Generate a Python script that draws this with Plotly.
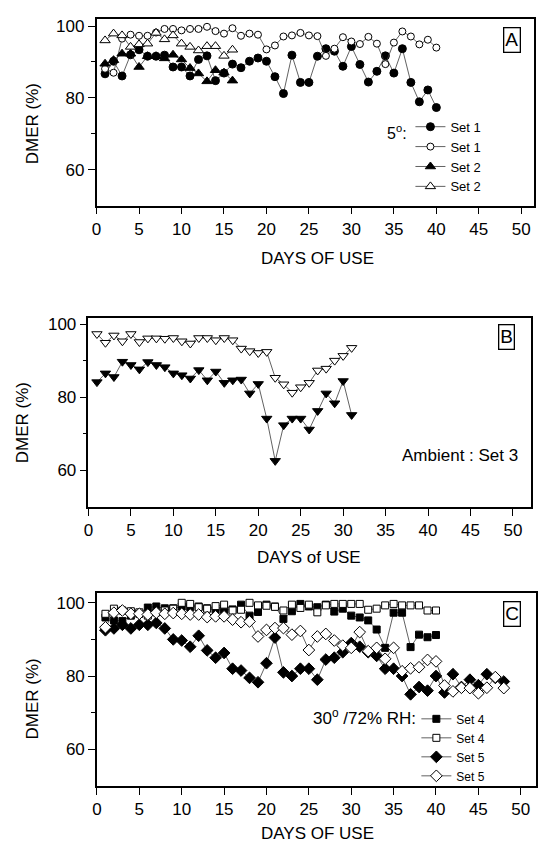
import plotly.graph_objects as go

# ---------------- data ----------------
days_40 = [1, 2, 3, 4, 5, 6, 7, 8, 9, 10, 11, 12, 13, 14, 15, 16, 17, 18, 19, 20,
           21, 22, 23, 24, 25, 26, 27, 28, 29, 30, 31, 32, 33, 34, 35, 36, 37, 38, 39, 40]
days_16 = [1, 2, 3, 4, 5, 6, 7, 8, 9, 10, 11, 12, 13, 14, 15, 16]
days_31 = [1, 2, 3, 4, 5, 6, 7, 8, 9, 10, 11, 12, 13, 14, 15, 16, 17, 18, 19, 20,
           21, 22, 23, 24, 25, 26, 27, 28, 29, 30, 31]
days_48 = [1, 2, 3, 4, 5, 6, 7, 8, 9, 10, 11, 12, 13, 14, 15, 16, 17, 18, 19, 20,
           21, 22, 23, 24, 25, 26, 27, 28, 29, 30, 31, 32, 33, 34, 35, 36, 37, 38, 39, 40,
           41, 42, 43, 44, 45, 46, 47, 48]

# Panel A (5 deg)
a_set1_filled = [86.7, 90.2, 86.1, 92.0, 93.4, 91.6, 91.6, 91.9, 88.6, 88.6, 86.1, 90.7, 91.7, 84.8,
                 86.9, 89.4, 88.4, 90.2, 91.1, 90.2, 85.9, 81.2, 91.9, 84.3, 84.3, 91.6, 93.7, 93.0,
                 88.8, 94.3, 89.3, 84.4, 87.4, 91.7, 86.9, 93.7, 84.3, 78.9, 82.2, 77.3]
a_set1_open = [88.1, 87.0, 96.5, 97.6, 97.3, 97.3, 98.2, 99.2, 99.2, 98.8, 99.2, 99.2, 99.8, 98.6,
               97.9, 99.4, 97.3, 97.9, 97.6, 93.5, 94.6, 97.1, 97.4, 98.1, 97.4, 97.2, 91.7, 93.7,
               96.9, 95.7, 95.0, 97.0, 95.1, 89.4, 95.4, 98.5, 97.1, 94.9, 96.2, 94.0]
a_set2_filled = [89.5, 90.5, 92.3, 92.3, 88.6, 91.6, 91.6, 91.0, 92.0, 90.7, 88.3, 86.8, 84.6, 87.7,
                 87.0, 84.8]
a_set2_open = [96.0, 97.9, 97.4, 94.2, 94.9, 95.1, 98.1, 96.3, 97.4, 95.1, 94.2, 93.2, 94.4, 94.4,
               91.7, 93.4]

# Panel B (ambient)
b_set3_open = [97.4, 95.0, 97.0, 95.4, 97.4, 95.2, 96.2, 96.2, 96.1, 96.3, 95.4, 94.8, 96.3, 96.3,
               95.7, 96.3, 95.7, 93.4, 92.7, 92.2, 92.5, 85.4, 83.6, 81.3, 82.8, 84.0, 87.4, 87.9,
               90.1, 91.4, 93.6]
b_set3_filled = [84.2, 86.6, 85.6, 89.8, 88.9, 87.7, 89.7, 88.9, 88.3, 86.6, 86.1, 85.2, 87.5, 84.7,
                 87.1, 84.0, 84.7, 84.9, 81.1, 83.7, 74.2, 62.6, 72.4, 74.2, 74.2, 71.2, 76.3, 81.1,
                 78.4, 84.5, 75.2]

# Panel C (30 deg / 72% RH)
c_set4_filled = [96.0, 95.2, 95.0, 96.5, 97.0, 98.7, 99.0, 98.5, 98.5, 99.0, 98.8, 99.0, 98.5, 98.0,
                 98.0, 98.2, 99.5, 96.5, 97.5, 99.5, 99.0, 95.6, 97.7, 99.7, 99.0, 98.8, 99.5, 97.6,
                 98.4, 96.5, 96.0, 95.2, 92.7, 87.7, 97.3, 97.3, 87.9, 91.3, 90.6, 91.2]
c_set4_open = [97.0, 98.4, 97.9, 97.7, 97.4, 96.5, 97.4, 97.9, 98.4, 100.0, 99.7, 98.8, 98.4, 99.1,
               99.5, 97.9, 98.1, 100.0, 99.3, 99.2, 98.9, 97.9, 99.5, 98.6, 99.5, 97.4, 99.3, 99.7,
               99.7, 99.7, 99.7, 98.1, 98.4, 99.3, 99.7, 99.3, 99.3, 99.3, 97.9, 97.9]
c_set5_filled = [92.5, 93.0, 94.0, 93.0, 94.0, 94.0, 94.5, 93.0, 90.0, 89.7, 88.0, 91.0, 87.0, 85.0,
                 86.3, 82.0, 81.5, 79.5, 78.3, 83.5, 90.5, 81.0, 80.0, 82.0, 82.0, 79.0, 84.5, 85.0,
                 86.5, 89.0, 88.0, 86.5, 85.5, 82.0, 82.0, 80.0, 75.0, 77.0, 76.0, 80.0, 75.5, 80.5,
                 77.0, 79.0, 77.5, 80.5, 79.5, 78.5]
c_set5_open = [93.3, 97.3, 97.9, 97.0, 97.0, 96.8, 97.3, 97.0, 97.2, 97.0, 96.8, 96.8, 96.1, 96.3,
               96.3, 95.4, 94.7, 94.9, 90.8, 92.6, 93.1, 93.1, 91.3, 92.3, 87.1, 90.8, 91.5, 89.7,
               88.3, 87.7, 92.0, 86.8, 87.7, 84.7, 87.7, 81.3, 82.1, 82.4, 84.4, 84.0, 77.4, 75.8,
               76.8, 76.7, 75.3, 76.8, 79.7, 76.7]

x_ticks = [0, 5, 10, 15, 20, 25, 30, 35, 40, 45, 50]
y_ticks = [60, 80, 100]
y_minor = [70, 90]

# ---------------- figure ----------------
W, H = 538, 844
FONT = "Liberation Sans, Arial, sans-serif"
LINE = dict(color="#3a3a3a", width=0.8)

fig = go.Figure()


def add(x, y, symbol, filled, size, name, xa, ya, legend=None, showlegend=True):
    marker = dict(symbol=symbol, size=size,
                  color="black" if filled else "white",
                  line=dict(color="black", width=1.0))
    fig.add_trace(go.Scatter(x=x, y=y, mode="lines+markers", name=name,
                             marker=marker, line=LINE, xaxis=xa, yaxis=ya,
                             legend=legend, showlegend=showlegend))


# Panel A
add(days_40, a_set1_filled, "circle", True, 8, "Set 1", "x", "y", "legend")
add(days_40, a_set1_open, "circle", False, 7, "Set 1", "x", "y", "legend")
add(days_16, a_set2_filled, "triangle-up", True, 9, "Set 2", "x", "y", "legend")
add(days_16, a_set2_open, "triangle-up", False, 9, "Set 2", "x", "y", "legend")
# Panel B
add(days_31, b_set3_open, "triangle-down", False, 9, "Set 3", "x2", "y2", showlegend=False)
add(days_31, b_set3_filled, "triangle-down", True, 9, "Set 3", "x2", "y2", showlegend=False)
# Panel C
add(days_40, c_set4_filled, "square", True, 7, "Set 4", "x3", "y3", "legend2")
add(days_40, c_set4_open, "square", False, 7, "Set 4", "x3", "y3", "legend2")
add(days_48, c_set5_filled, "diamond", True, 9, "Set 5", "x3", "y3", "legend2")
add(days_48, c_set5_open, "diamond", False, 9, "Set 5", "x3", "y3", "legend2")


def px_x(p):
    return p / W


def px_y(p):
    return 1 - p / H


def xaxis(dom, rng):
    return dict(domain=dom, range=rng, showline=True, mirror=True, linecolor="black",
                linewidth=1.5, ticks="outside", ticklen=7, tickwidth=1.3, tickcolor="black",
                tickvals=x_ticks, showgrid=False, zeroline=False,
                tickfont=dict(size=17, color="black", family=FONT))


def yaxis(dom, rng, anchor):
    return dict(domain=dom, range=rng, anchor=anchor, showline=True, mirror=True,
                linecolor="black", linewidth=1.5, ticks="outside", ticklen=7, tickwidth=1.3,
                tickcolor="black", tickvals=y_ticks, showgrid=False, zeroline=False,
                minor=dict(tickvals=y_minor, ticks="outside", ticklen=4, tickcolor="black",
                           showgrid=False),
                tickfont=dict(size=17, color="black", family=FONT))


panels = {
    "A": dict(x=[92.6, 535], y=[17.3, 204], xr=[0, 51.5], yr=[50, 101.9]),
    "B": dict(x=[84.4, 531.7], y=[316.7, 506], xr=[0, 52.1], yr=[50, 101.8]),
    "C": dict(x=[93.0, 537], y=[592.7, 785.7], xr=[0, 51.8], yr=[50, 102.6]),
}
axes = {}
for i, (k, p) in enumerate(panels.items()):
    sfx = "" if i == 0 else str(i + 1)
    xd = [px_x(p["x"][0]), px_x(p["x"][1])]
    yd = [px_y(p["y"][1]), px_y(p["y"][0])]
    axes["xaxis" + sfx] = dict(xaxis(xd, p["xr"]), anchor="y" + sfx)
    axes["yaxis" + sfx] = yaxis(yd, p["yr"], "x" + sfx)

fig.update_layout(**axes)

ann = []


def text(x, y, s, size=17, angle=0, **kw):
    ann.append(dict(x=px_x(x), y=px_y(y), xref="paper", yref="paper", text=s,
                    showarrow=False, textangle=angle, xanchor="center", yanchor="middle",
                    font=dict(size=size, color="black", family=FONT), **kw))


# axis titles
text(27.4, 122.5, "DMER (%)", angle=-90)
text(315.8, 256.7, "DAYS OF USE")
text(17.8, 421.7, "DMER (%)", angle=-90)
text(307.9, 556.7, "DAYS of USE")
text(27.4, 699, "DMER (%)", angle=-90)
text(315.6, 833, "DAYS OF USE")

# panel letters in boxes
for lx, ly, letter in [(512.5, 37.8, "A"), (507.4, 335.5, "B"), (512.3, 613, "C")]:
    text(lx, ly, letter, size=19, bordercolor="black", borderwidth=1.3, borderpad=1)

# condition labels
text(396, 130, "5<sup>o</sup>:", size=16)
text(460, 455, "Ambient : Set 3", size=17)
text(364, 716.7, "30<sup>o</sup> /72% RH:", size=17)

fig.update_layout(
    annotations=ann,
    width=W, height=H, autosize=False,
    margin=dict(l=0, r=0, t=0, b=0),
    paper_bgcolor="white", plot_bgcolor="white",
    font=dict(family=FONT, color="black"),
    legend=dict(x=px_x(410), y=px_y(110), xanchor="left", yanchor="top",
                font=dict(size=13, family=FONT, color="black"), bgcolor="rgba(0,0,0,0)",
                itemwidth=30, tracegroupgap=0, itemclick=False),
    legend2=dict(x=px_x(416), y=px_y(704), xanchor="left", yanchor="top",
                 font=dict(size=12, family=FONT, color="black"), bgcolor="rgba(0,0,0,0)",
                 itemwidth=30, tracegroupgap=0, itemclick=False),
)

fig.write_html(
    "out.html",
    config={"displayModeBar": False},
    post_script="document.body.style.margin='0';document.body.style.overflow='hidden';",
)
